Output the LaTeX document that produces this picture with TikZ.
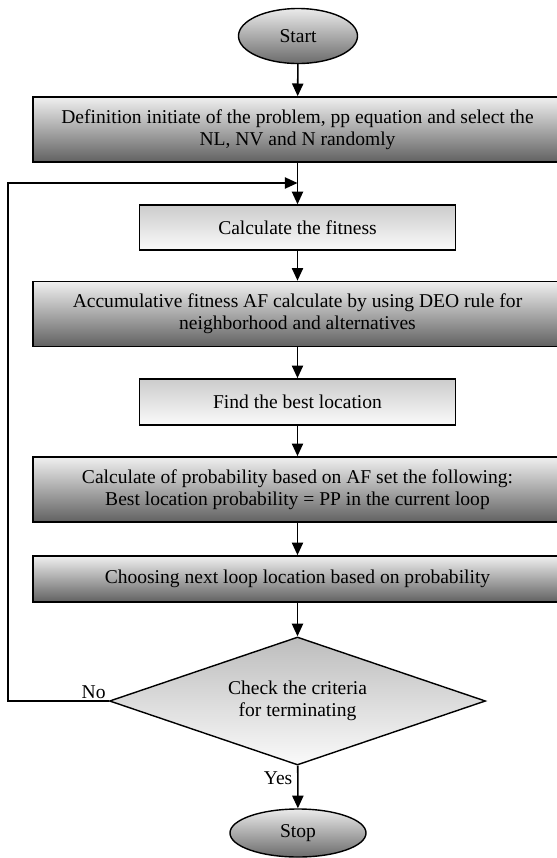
\documentclass[tikz,border=0pt]{standalone}
\usepackage{fontspec}
\setmainfont{Liberation Serif}
\usetikzlibrary{shapes.geometric,arrows.meta}

\begin{document}
\begin{tikzpicture}[x=0.025cm,y=-0.025cm,
  font=\fontsize{13.9}{15.8}\selectfont,
  darkbox/.style={draw,line width=1.2pt,align=center,top color=black!6,bottom color=black!62,
    minimum width=13.225cm,minimum height=1.625cm},
  lightbox/.style={draw,line width=1.2pt,align=center,top color=black!20,bottom color=black!2,
    minimum width=7.9cm,minimum height=1.12cm},
  term/.style={ellipse,draw,line width=1pt,top color=black!8,bottom color=black!58,
    minimum width=2.975cm,minimum height=1.375cm,inner sep=0pt},
  check/.style={diamond,draw,line width=1pt,align=center,top color=black!26,bottom color=black!2,
    shape aspect=2.9,inner sep=0pt,minimum width=9.4cm,minimum height=3.2cm},
  arr/.style={line width=1.1pt,-{Triangle[length=9pt,width=8pt]}}]
\useasboundingbox (0,0) rectangle (557,858);
\node[term] (start) at (298,36) {Start};
\node[darkbox] (def) at (297.5,129.5) {Definition initiate of the problem, pp equation and select the\\NL, NV and N randomly};
\coordinate (join) at (297.5,183);
\node[lightbox] (fit) at (297.5,227.5) {Calculate the fitness};
\node[darkbox] (acc) at (297.5,314) {Accumulative fitness AF calculate by using DEO rule for\\neighborhood and alternatives};
\node[lightbox,minimum height=1.15cm] (best) at (297.5,402) {Find the best location};
\node[darkbox] (prob) at (297.5,489.5) {Calculate of probability based on AF set the following:\\Best location probability = PP in the current loop};
\node[darkbox,minimum height=1.15cm] (next) at (297.5,579) {Choosing next loop location based on probability};
\node[check] (chk) at (297.5,701) {Check the criteria\\for terminating};
\node[term,minimum width=3.4cm,minimum height=1.2cm] (stop) at (298,833) {Stop};
\draw[arr] (start) -- (def);
\draw[line width=1.1pt] (def) -- (join);
\draw[arr] (join) -- (fit);
\draw[arr] (fit) -- (acc);
\draw[arr] (acc) -- (best);
\draw[arr] (best) -- (prob);
\draw[arr] (prob) -- (next);
\draw[arr] (next) -- (chk);
\draw[arr] (chk.west) -- node[above,pos=0.15,inner sep=1pt] {No} ++(-101,0) |- (join);
\draw[arr] (chk) -- node[left,pos=0.3] {Yes} (stop);
\end{tikzpicture}
\end{document}
